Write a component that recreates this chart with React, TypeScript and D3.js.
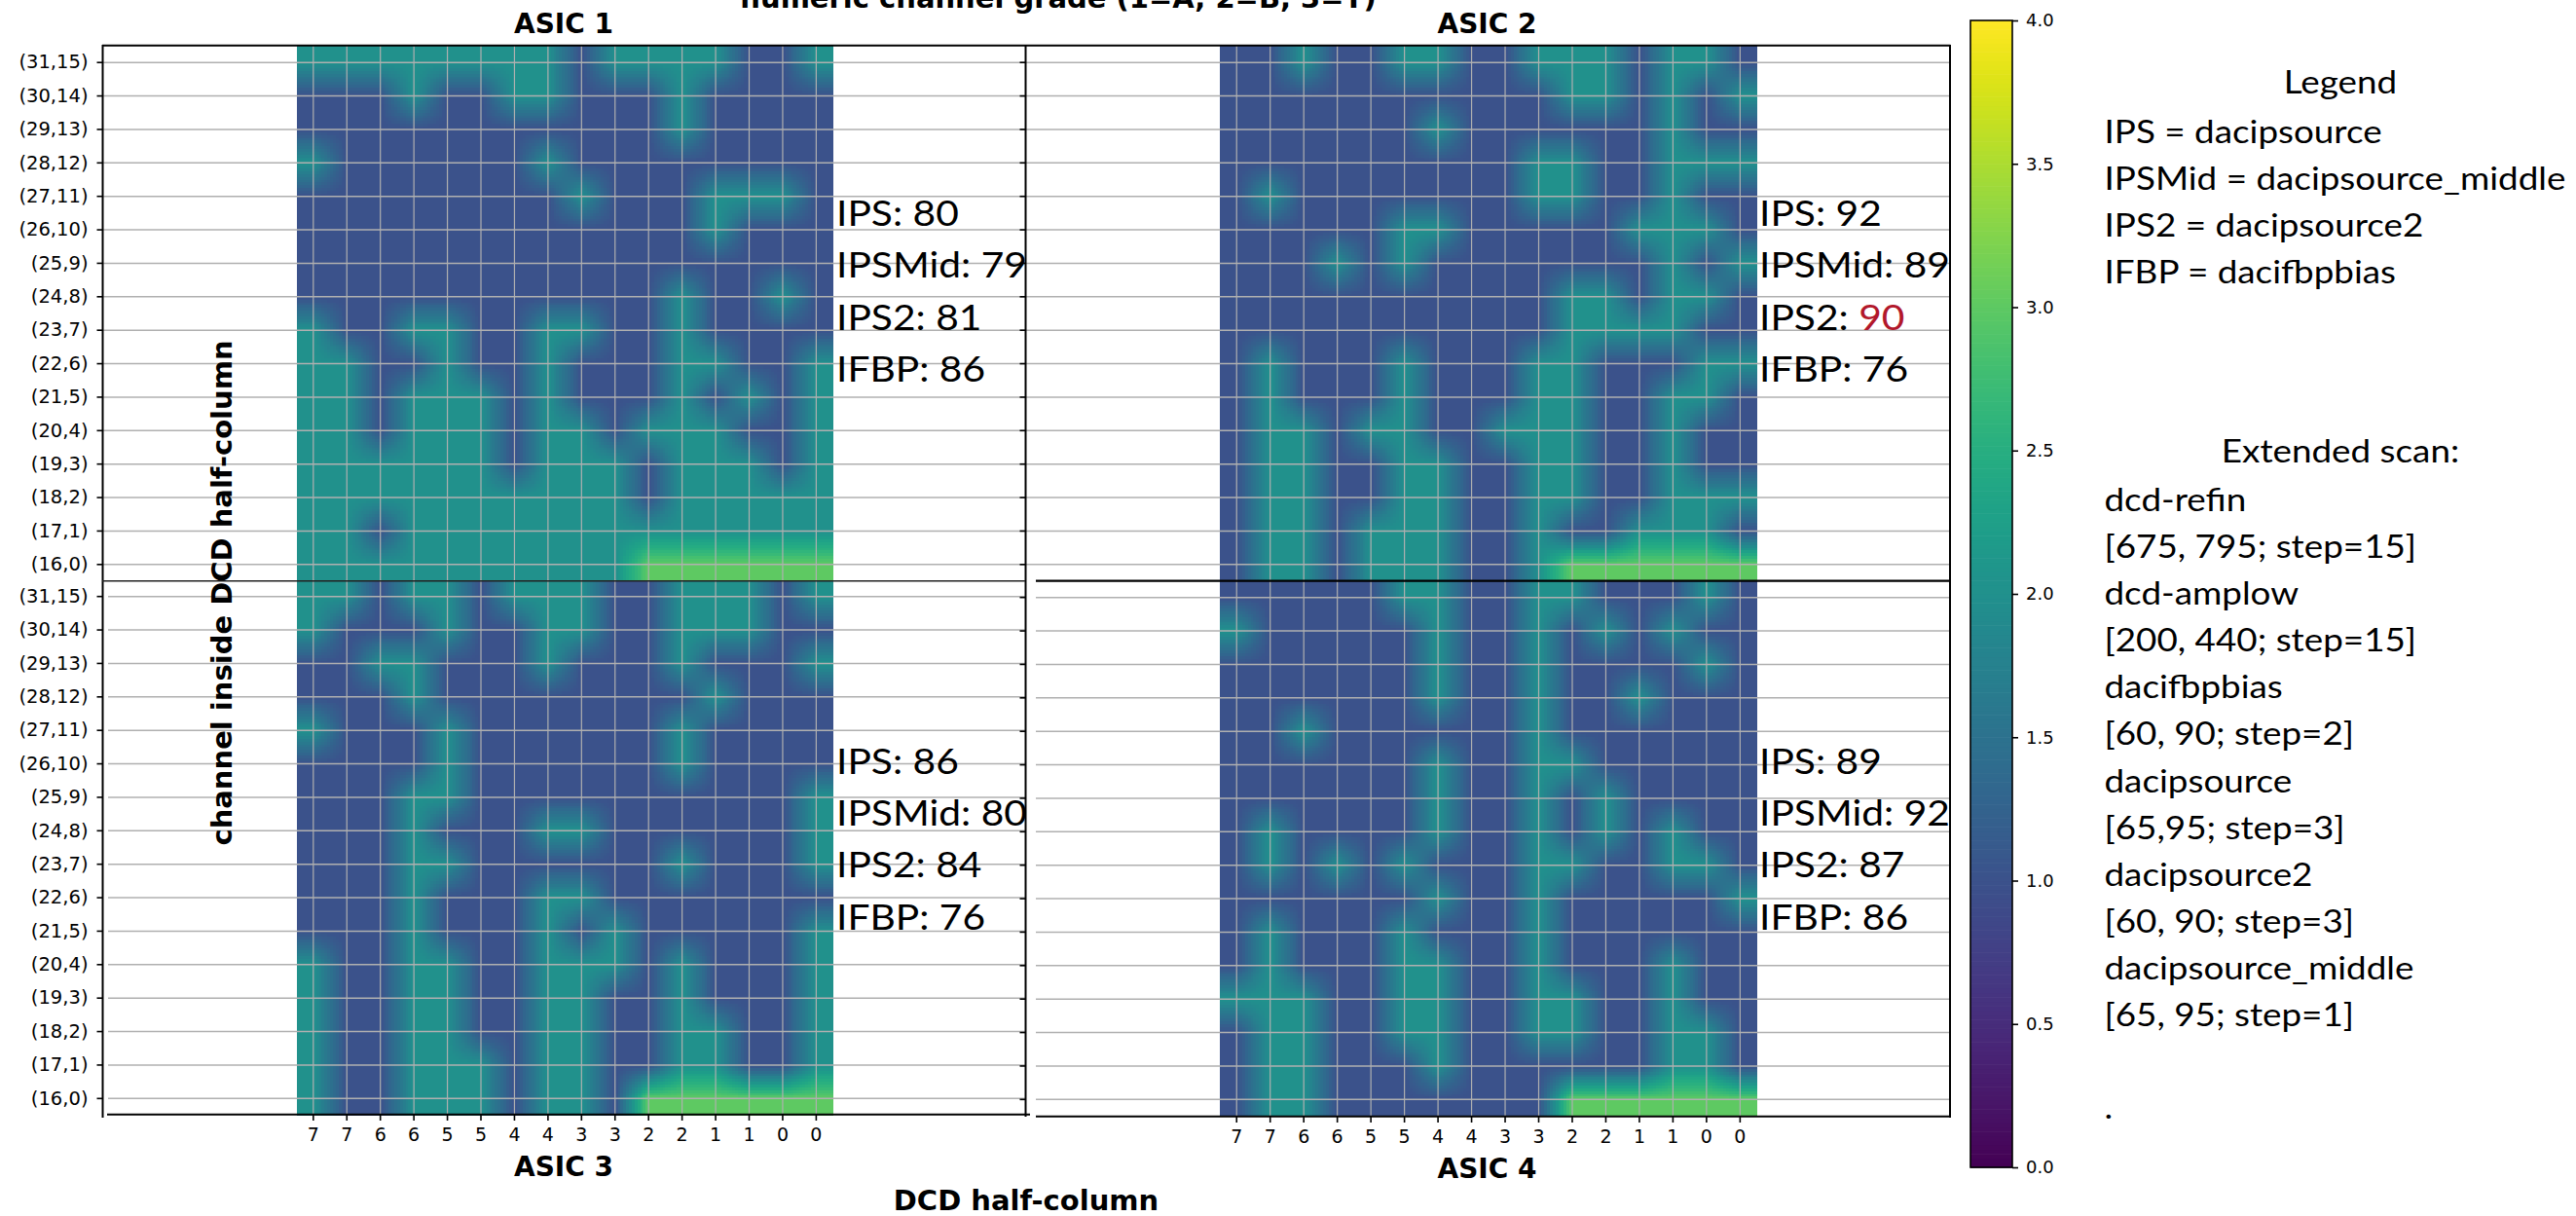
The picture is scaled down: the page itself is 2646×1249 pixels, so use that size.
import React, { useEffect, useRef } from 'react';
import * as d3 from 'd3';

// grades, rows go (31,15) down to (16,0), columns left to right
const asic1Grades = [
  [2,2,2,2,2,2,2,2,1,2,2,2,2,1,1,2],
  [1,1,1,2,1,1,2,2,1,1,1,2,1,1,1,1],
  [1,1,1,1,1,1,1,1,1,1,1,2,1,1,1,1],
  [2,1,1,1,1,1,1,2,1,1,1,1,1,1,1,1],
  [1,1,1,1,1,1,1,1,2,1,1,1,2,2,2,1],
  [1,1,1,1,1,1,1,1,1,1,1,1,2,1,1,1],
  [1,1,1,1,1,1,1,1,1,1,1,1,1,1,1,1],
  [1,1,1,1,1,1,1,1,1,1,1,2,1,1,2,1],
  [2,1,1,2,2,1,1,2,2,1,1,2,1,1,1,1],
  [2,2,1,1,2,1,1,2,1,1,1,2,2,1,1,2],
  [2,2,1,2,2,2,1,2,1,1,1,2,1,2,1,2],
  [2,2,1,2,2,2,1,2,2,1,2,2,2,1,1,2],
  [2,2,2,2,2,2,1,2,2,2,1,2,2,2,1,2],
  [2,2,2,2,2,2,2,2,2,2,1,2,2,2,2,2],
  [2,2,1,2,2,2,2,2,2,2,2,2,2,2,2,2],
  [2,2,2,2,2,2,2,2,2,2,3,3,3,3,3,3],
];
const asic2Grades = [
  [1,1,2,1,1,2,2,1,1,2,2,2,1,2,2,1],
  [1,1,1,1,1,1,1,1,1,1,2,2,1,2,1,2],
  [1,1,1,1,1,1,2,1,1,1,1,1,1,2,1,1],
  [1,1,1,1,1,1,1,1,1,2,2,1,1,2,2,2],
  [1,2,1,1,1,1,1,1,1,2,2,1,1,2,1,1],
  [1,1,1,1,1,2,2,1,1,1,1,1,2,2,2,1],
  [1,1,1,2,1,2,1,1,1,1,1,1,1,2,1,2],
  [1,1,1,1,1,1,1,1,1,1,2,2,1,2,2,1],
  [1,1,1,1,1,1,1,1,1,1,2,2,2,2,1,1],
  [1,2,1,1,1,2,1,1,1,2,2,1,1,1,2,2],
  [1,2,1,1,1,2,1,1,1,2,2,1,1,2,2,1],
  [1,2,2,1,2,2,1,1,2,2,2,1,1,2,1,1],
  [1,2,2,1,1,2,2,1,1,2,2,1,1,2,1,1],
  [1,2,2,1,1,2,2,1,1,2,2,1,1,2,2,2],
  [1,2,2,1,2,2,2,1,1,2,1,1,2,2,2,1],
  [1,2,2,1,2,2,2,1,1,2,3,3,3,3,3,3],
];
const asic3Grades = [
  [2,2,1,2,2,1,2,2,2,1,1,2,2,2,1,2],
  [2,1,1,1,2,1,1,2,2,1,1,2,2,2,1,1],
  [1,1,2,2,1,1,1,2,1,1,1,2,1,1,1,2],
  [1,1,1,2,1,1,1,1,1,1,1,1,2,1,1,1],
  [2,1,1,1,2,1,1,1,1,1,1,2,1,1,1,1],
  [1,1,1,1,2,1,1,1,1,1,1,2,1,1,1,1],
  [1,1,1,2,2,1,1,1,1,1,1,1,1,1,1,2],
  [1,1,1,2,1,1,1,2,2,1,1,1,1,1,1,2],
  [1,1,1,2,2,1,1,1,1,1,1,2,1,1,1,2],
  [1,1,1,2,1,1,1,2,2,1,1,1,1,1,1,1],
  [1,1,1,2,1,1,1,2,1,2,1,1,1,1,1,2],
  [2,1,1,2,2,1,1,2,2,2,1,2,1,1,1,2],
  [2,1,1,2,2,1,1,2,2,1,1,2,1,1,1,2],
  [2,1,1,2,2,1,1,2,2,1,1,2,2,1,1,2],
  [2,1,1,2,2,2,1,2,2,1,1,2,2,1,1,2],
  [2,1,1,2,2,2,1,2,2,1,3,3,3,3,3,3],
];
const asic4Grades = [
  [1,1,1,1,1,2,2,1,1,2,2,1,1,1,2,1],
  [2,1,1,1,1,1,2,1,1,2,1,2,1,2,1,1],
  [1,1,1,1,1,1,2,1,1,2,1,1,1,1,2,1],
  [1,1,1,1,1,1,2,1,1,2,1,1,2,1,1,1],
  [1,1,2,1,1,1,1,1,1,2,1,1,1,1,1,1],
  [1,1,1,1,1,1,2,1,1,2,2,1,1,1,1,1],
  [1,1,1,1,1,1,2,1,1,2,1,2,1,1,1,1],
  [1,2,1,1,1,1,2,1,1,2,1,2,1,2,1,1],
  [1,2,1,2,1,2,1,1,1,2,2,1,1,2,2,1],
  [1,1,1,1,1,1,2,1,1,2,1,1,1,1,1,2],
  [1,2,1,1,1,2,1,1,1,2,1,1,1,1,1,1],
  [1,2,1,1,1,2,2,1,1,2,1,1,1,2,1,1],
  [2,2,2,1,1,2,2,1,1,2,2,1,1,2,1,1],
  [1,2,2,1,1,2,2,1,1,2,2,1,1,2,2,1],
  [1,2,2,1,1,1,2,1,1,1,1,1,1,2,2,1],
  [1,2,2,1,1,1,1,1,1,1,3,3,3,3,3,3],
];

const channelLabels = ['(31,15)','(30,14)','(29,13)','(28,12)','(27,11)','(26,10)','(25,9)','(24,8)','(23,7)','(22,6)','(21,5)','(20,4)','(19,3)','(18,2)','(17,1)','(16,0)'];
const halfColumnLabels = ['7','7','6','6','5','5','4','4','3','3','2','2','1','1','0','0'];
const colorbarTicks = [0, 0.5, 1, 1.5, 2, 2.5, 3, 3.5, 4];

const asic1Settings = [['IPS: ', '80'], ['IPSMid: ', '79'], ['IPS2: ', '81'], ['IFBP: ', '86']];
const asic2Settings = [['IPS: ', '92'], ['IPSMid: ', '89'], ['IPS2: ', '90'], ['IFBP: ', '76']];
const asic3Settings = [['IPS: ', '86'], ['IPSMid: ', '80'], ['IPS2: ', '84'], ['IFBP: ', '76']];
const asic4Settings = [['IPS: ', '89'], ['IPSMid: ', '92'], ['IPS2: ', '87'], ['IFBP: ', '86']];

const legendLines = ['IPS = dacipsource', 'IPSMid = dacipsource_middle', 'IPS2 = dacipsource2', 'IFBP = dacifbpbias'];
const scanLines = ['dcd-refin', '[675, 795; step=15]', 'dcd-amplow', '[200, 440; step=15]', 'dacifbpbias', '[60, 90; step=2]', 'dacipsource', '[65,95; step=3]', 'dacipsource2', '[60, 90; step=3]', 'dacipsource_middle', '[65, 95; step=1]'];

const WIDTH = 2646;
const HEIGHT = 1249;
const SANS = '"DejaVu Sans"';
const NOTE = 'Lato';
const UPSAMPLE = 12;
const QUANT = 0.02;

const color = d3.scaleSequential(d3.interpolateViridis).domain([0, 4]);

// the original font (Avenir) is wider than anything installed, so stretch to a measured width
const stretchTo = (text, size, target) => {
  const ctx = document.createElement('canvas').getContext('2d');
  ctx.font = `${size}px ${NOTE}`;
  return target / ctx.measureText(text).width;
};

// plain bilinear between cell centres, like imshow does it, then merged into
// horizontal runs of one colour so the svg stays a sane size
const toRuns = (grid) => {
  const n = grid.length * UPSAMPLE;
  const last = grid.length - 1;
  const runs = [];
  for (let j = 0; j < n; j++) {
    const v = Math.min(last, Math.max(0, (j + 0.5) / UPSAMPLE - 0.5));
    const r0 = Math.min(last - 1, Math.floor(v));
    const sv = v - r0;
    let start = 0;
    let prev = null;
    for (let i = 0; i <= n; i++) {
      let q = null;
      if (i < n) {
        const u = Math.min(last, Math.max(0, (i + 0.5) / UPSAMPLE - 0.5));
        const c0 = Math.min(last - 1, Math.floor(u));
        const su = u - c0;
        const top = grid[r0][c0] * (1 - su) + grid[r0][c0 + 1] * su;
        const bottom = grid[r0 + 1][c0] * (1 - su) + grid[r0 + 1][c0 + 1] * su;
        q = Math.round((top * (1 - sv) + bottom * sv) / QUANT);
      }
      if (q !== prev) {
        if (prev !== null) runs.push({ j, i0: start, i1: i, value: prev * QUANT });
        start = i;
        prev = q;
      }
    }
  }
  return { n, runs };
};

const Heat = ({ grid, heatX, heatY }) => {
  const { n, runs } = toRuns(grid);
  const sx = d3.scaleLinear().domain([0, n]).range(heatX);
  const sy = d3.scaleLinear().domain([0, n]).range(heatY);
  return (
    <g shapeRendering="crispEdges">
      {runs.map((r) => (
        <rect
          key={`${r.j}-${r.i0}`}
          x={sx(r.i0)}
          width={sx(r.i1) - sx(r.i0)}
          y={sy(r.j)}
          height={sy(r.j + 1) - sy(r.j)}
          fill={color(r.value)}
        />
      ))}
    </g>
  );
};

const Panel = ({ p }) => {
  const yAxisRef = useRef(null);
  const xAxisRef = useRef(null);
  const idx = d3.range(16);
  const x = d3.scaleBand().domain(idx).range(p.heatX);
  const y = d3.scaleBand().domain(idx).range(p.heatY);
  const bw = x.bandwidth() / 2;
  const bh = y.bandwidth() / 2;
  const noteScale = stretchTo('IPSMid: 79', 36, 196);

  useEffect(() => {
    const yAxis = d3.axisLeft(y)
      .tickSize(6)
      .tickPadding(9)
      .tickFormat((d) => (p.yLabels ? channelLabels[d] : ''));
    const yg = d3.select(yAxisRef.current).call(yAxis);
    yg.select('.domain').remove();
    yg.selectAll('line').attr('stroke', '#000').attr('stroke-width', 1.6);
    yg.selectAll('text').attr('font-family', SANS).attr('font-size', 19.5).attr('fill', '#000');

    if (!xAxisRef.current) return;
    const xAxis = d3.axisBottom(x)
      .tickSize(6)
      .tickPadding(8)
      .tickFormat((d) => halfColumnLabels[d]);
    const xg = d3.select(xAxisRef.current).call(xAxis);
    xg.select('.domain').remove();
    xg.selectAll('line').attr('stroke', '#000').attr('stroke-width', 1.6);
    xg.selectAll('text').attr('font-family', SANS).attr('font-size', 19).attr('fill', '#000');
  }, []);

  return (
    <g>
      <Heat grid={p.grid} heatX={p.heatX} heatY={p.heatY} />
      {idx.map((d) => (
        <line key={d} x1={p.gridX[0]} x2={p.gridX[1]} y1={y(d) + bh} y2={y(d) + bh} stroke="#b0b0b0" strokeWidth={1.6} />
      ))}
      {idx.map((d) => (
        <line key={d} x1={x(d) + bw} x2={x(d) + bw} y1={p.heatY[0]} y2={p.heatY[1]} stroke="#b0b0b0" strokeWidth={1.2} />
      ))}
      <g ref={yAxisRef} transform={`translate(${p.spineX},0)`} />
      {p.bottomY ? <g ref={xAxisRef} transform={`translate(0,${p.bottomY})`} /> : null}
      <g transform={`translate(${p.noteX},${p.noteY}) scale(${noteScale},1)`}>
        {p.settings.map(([name, value], i) => (
          <text key={name} x={0} y={i * 53.4} fontFamily={NOTE} fontSize={36} fill="#000">
            {name}
            <tspan fill={p.red === i ? '#b2182b' : '#000'}>{value}</tspan>
          </text>
        ))}
      </g>
    </g>
  );
};

const panels = [
  { grid: asic1Grades, heatX: [304.6, 855.6], heatY: [47, 597], gridX: [105, 1053], spineX: 105.5, yLabels: true, settings: asic1Settings, noteX: 859, noteY: 232 },
  { grid: asic2Grades, heatX: [1253, 1804.6], heatY: [47, 597], gridX: [1053, 2003], spineX: 1053.5, yLabels: false, settings: asic2Settings, noteX: 1807, noteY: 232, red: 2 },
  { grid: asic3Grades, heatX: [304.6, 855.6], heatY: [595.5, 1145.5], gridX: [111, 1053], spineX: 105.5, yLabels: true, bottomY: 1145, settings: asic3Settings, noteX: 859, noteY: 794.6 },
  { grid: asic4Grades, heatX: [1253, 1804.6], heatY: [596.5, 1146.5], gridX: [1064, 2003], spineX: 1053.5, yLabels: false, bottomY: 1147, settings: asic4Settings, noteX: 1807, noteY: 794.6 },
];

const Colorbar = () => {
  const axisRef = useRef(null);
  const y = d3.scaleLinear().domain([0, 4]).range([1199, 21]);
  const steps = d3.range(0, 4, 4 / 256);

  useEffect(() => {
    const axis = d3.axisRight(y).tickValues(colorbarTicks).tickSize(6).tickPadding(8).tickFormat(d3.format('.1f'));
    const g = d3.select(axisRef.current).call(axis);
    g.select('.domain').remove();
    g.selectAll('line').attr('stroke', '#000').attr('stroke-width', 1.6);
    g.selectAll('text').attr('font-family', SANS).attr('font-size', 18).attr('fill', '#000');
  }, []);

  return (
    <g>
      {steps.map((v) => (
        <rect key={v} x={2024} width={43} y={y(v + 4 / 256)} height={y(v) - y(v + 4 / 256) + 0.6} fill={color(v + 2 / 256)} />
      ))}
      <rect x={2024} y={21} width={43} height={1178} fill="none" stroke="#000" strokeWidth={1.6} />
      <g ref={axisRef} transform="translate(2067,0)" />
    </g>
  );
};

export default function App() {
  const legendScale = stretchTo('IPSMid = dacipsource_middle', 32, 474);
  const headingX = (2404 - 2161.5) / legendScale;
  return (
    <svg width={WIDTH} height={HEIGHT} style={{ position: 'absolute', left: 0, top: 0, display: 'block', background: '#fff' }}>
      {panels.map((p, i) => <Panel key={i} p={p} />)}

      {/* frame, the four axes do not quite line up in the original */}
      <g stroke="#000" fill="none">
        <line x1={105} x2={2003.5} y1={46.7} y2={46.7} strokeWidth={2} />
        <line x1={105.5} x2={105.5} y1={46} y2={1148} strokeWidth={2} />
        <line x1={1053.5} x2={1053.5} y1={46} y2={1147} strokeWidth={2} />
        <line x1={2003} x2={2003} y1={46} y2={1148} strokeWidth={2} />
        <line x1={105} x2={1053} y1={596.7} y2={596.7} strokeWidth={1.4} stroke="#222" />
        <line x1={1064} x2={2003} y1={596.7} y2={596.7} strokeWidth={2.2} />
        <line x1={110} x2={1058} y1={1144.7} y2={1144.7} strokeWidth={2} />
        <line x1={1064} x2={2003} y1={1146.8} y2={1146.8} strokeWidth={2} />
      </g>

      <g fontFamily={SANS} fontWeight="bold" fill="#000" textAnchor="middle">
        <text x={1087} y={8} fontSize={29}>numeric channel grade (1=A, 2=B, 3=T)</text>
        <text x={579} y={34} fontSize={28}>ASIC 1</text>
        <text x={1527.5} y={34} fontSize={28}>ASIC 2</text>
        <text x={579} y={1207.5} fontSize={28}>ASIC 3</text>
        <text x={1527.5} y={1210} fontSize={28}>ASIC 4</text>
        <text x={1054} y={1243} fontSize={29}>DCD half-column</text>
        <text transform="translate(238,609) rotate(-90)" fontSize={29}>channel inside DCD half-column</text>
      </g>

      <Colorbar />

      <g transform={`translate(2161.5,0) scale(${legendScale},1)`} fontFamily={NOTE} fontSize={32} fill="#000">
        <text x={headingX} y={96} textAnchor="middle">Legend</text>
        {legendLines.map((t, i) => (
          <text key={t} x={0} y={147 + i * 48}>{t}</text>
        ))}
        <text x={headingX} y={475} textAnchor="middle">Extended scan:</text>
        {scanLines.map((t, i) => (
          <text key={t} x={0} y={525 + i * 48.1}>{t}</text>
        ))}
        <text x={0} y={1148.7}>.</text>
      </g>
    </svg>
  );
}
